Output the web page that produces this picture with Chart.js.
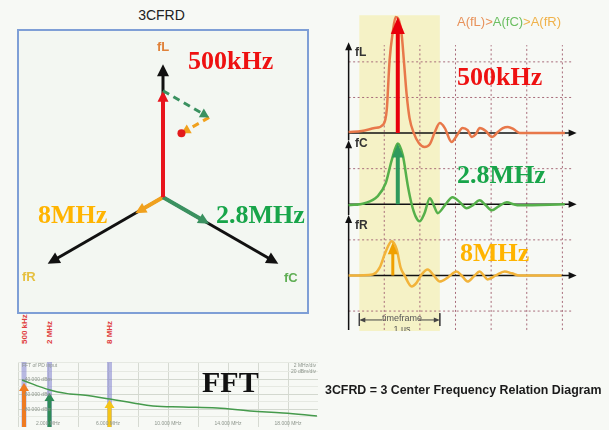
<!DOCTYPE html>
<html>
<head>
<meta charset="utf-8">
<title>3CFRD</title>
<script src="https://cdn.jsdelivr.net/npm/chart.js@4.4.1/dist/chart.umd.min.js"></script>
<style>
  body { margin: 0; width: 609px; height: 430px; overflow: hidden; position: relative; background: #f7f9f5; font-family: "Liberation Sans", Arial, sans-serif; }
  .t { position: absolute; white-space: nowrap; line-height: 1; }
  .big { font-family: "Liberation Serif", "Times New Roman", serif; font-weight: bold; font-size: 26px; }
  .lbl { font-size: 13px; font-weight: bold; }
  .ax { font-size: 12px; font-weight: bold; color: #333; }
  .tiny { font-size: 5px; color: #8d958c; }
  .marker { font-size: 8px; font-weight: bold; color: #e04040; line-height: 9px; transform-origin: 0 0; transform: rotate(-90deg); }
  canvas { position: absolute; }
  #box { position: absolute; left: 17px; top: 29px; width: 292px; height: 285px; box-sizing: border-box; border: 2px solid #7f9fd6; background: #f3f7f2; }
  #clipR { position: absolute; left: 313px; top: 0; width: 285px; height: 331px; overflow: hidden; }
</style>
</head>
<body>
<div class="t" style="left:0;width:323px;text-align:center;top:8px;font-size:14px;color:#222">3CFRD</div>
<div id="box"></div>
<canvas id="vec" width="286" height="278" style="left:20px;top:32px"></canvas>
<canvas id="wave" width="285" height="331" style="left:313px;top:0px"></canvas>
<canvas id="fft" width="300" height="65" style="left:18px;top:362px"></canvas>

<!-- 3CFRD labels -->
<div class="t lbl" style="left:157px;top:40px;color:#e0823a">fL</div>
<div class="t lbl" style="left:22px;top:270px;color:#e6c040">fR</div>
<div class="t lbl" style="left:284px;top:271px;color:#5fae55">fC</div>
<div class="t big" style="left:188px;top:48px;color:#ee1111">500kHz</div>
<div class="t big" style="left:38px;top:202px;color:#ffb400">8MHz</div>
<div class="t big" style="left:216px;top:202px;color:#18a54a">2.8MHz</div>

<!-- time signal labels -->
<div class="t" style="left:457px;top:15px;font-size:13px"><span style="color:#e8925a">A(fL)&gt;</span><span style="color:#6cbf62">A(fC)</span><span style="color:#f0b24a">&gt;A(fR)</span></div>
<div class="t ax" style="left:355px;top:46px">fL</div>
<div class="t ax" style="left:355px;top:137px">fC</div>
<div class="t ax" style="left:355px;top:219px">fR</div>
<div class="t big" style="left:457px;top:64px;color:#ee1111">500kHz</div>
<div class="t big" style="left:457px;top:162px;color:#18a54a">2.8MHz</div>
<div class="t big" style="left:460px;top:240px;color:#ffb400">8MHz</div>
<div id="clipR">
  <div class="t" style="left:69px;width:40px;text-align:center;top:314px;font-size:9px;color:#555">timeframe</div>
  <div class="t" style="left:69px;width:40px;text-align:center;top:325px;font-size:9px;color:#555">1 µs</div>
</div>

<!-- FFT labels -->
<div class="t tiny" style="left:22px;top:363px">FFT of PD input</div>
<div class="t tiny" style="left:276px;width:40px;text-align:right;top:363px">2 MHz/div</div>
<div class="t tiny" style="left:276px;width:40px;text-align:right;top:369px">20 dBm/div</div>
<div class="t" style="left:202px;top:367px;font-family:'Liberation Serif',serif;font-weight:bold;font-size:30px;color:#111">FFT</div>
<div class="t" style="left:325px;top:384px;font-size:12.4px;font-weight:bold;color:#1a1a1a">3CFRD = 3 Center Frequency Relation Diagram</div>

<script>
// 3CFRD vector diagram (axis length = 1)
const axisNames = ['fL', 'fC', 'fR'];
const axisAngles = [90, -30, 210];
const axisColors = ['#e8141c', '#3a9160', '#f0a11e'];
const amplitudes = [0.80, 0.40, 0.24];

// time signals: [time (div), amplitude (div)]
const baselines = [5, 3, 1];
const waveFL = [[0,0.03],[0.37,0.06],[0.73,0.14],[0.98,0.25],[1.07,0.65],[1.15,2.05],[1.24,2.84],[1.32,3.26],[1.40,3.20],[1.49,2.75],[1.55,2.05],[1.63,1.07],[1.71,0.42],[1.83,0],[1.97,-0.28],[2.13,-0.39],[2.28,-0.31],[2.42,0.03],[2.56,0.28],[2.70,0.14],[2.89,-0.25],[3.03,-0.08],[3.20,0.14],[3.34,0.08],[3.46,-0.11],[3.57,-0.03],[3.68,0.14],[3.85,0.06],[4.02,-0.11],[4.19,0.03],[4.33,0.14],[4.47,0.17],[4.63,0.11],[4.80,0],[6.07,0]];
const waveFC = [[0,-0.03],[0.45,0.03],[0.81,0.22],[1.04,0.59],[1.21,1.24],[1.38,1.71],[1.52,1.38],[1.66,0.53],[1.77,0],[1.88,-0.34],[1.99,-0.48],[2.13,-0.25],[2.28,0.17],[2.39,-0.03],[2.50,-0.25],[2.70,-0.03],[2.92,0.20],[3.12,0.06],[3.31,-0.11],[3.48,-0.03],[3.68,0.11],[3.85,-0.03],[4.02,-0.17],[4.21,-0.06],[4.44,0.06],[4.63,0],[4.80,-0.03],[6.07,0]];
const waveFR = [[0,0],[0.67,0.03],[0.87,0.22],[1.04,0.67],[1.21,0.96],[1.35,0.73],[1.46,0.22],[1.57,0],[1.77,-0.31],[1.91,-0.20],[2.05,0.03],[2.22,0.17],[2.39,0],[2.56,-0.17],[2.78,-0.06],[3.03,0.11],[3.17,0],[3.34,-0.17],[3.51,-0.03],[3.68,0.11],[3.79,0],[3.90,-0.11],[4.13,0],[4.38,0.11],[4.58,0.06],[4.80,0],[5.98,0]];
const waveColors = ['#e8784a', '#55b04a', '#f2b33a'];
const peakTime = [1.38, 1.38, 1.24];
const peakAmp = [3.26, 1.71, 0.93];
const peakColors = ['#e8000b', '#2f9a5c', '#f0a000'];
const timeframe = [0.3, 2.56];
const gridTimes = [1, 2, 3, 4, 5, 6];
const gridLevels = [0, 2, 4, 6, 7];

// FFT
const fftMHz = [0.27, 2.13, 3.47, 4.33, 6.13, 7.67, 9, 11, 13.27, 15.47, 17.67, 19.93];
const fftDbm = [-41.3, -54.7, -60, -61.3, -66.7, -72, -76, -77.3, -78.7, -82.7, -85.3, -89.3];
const markerLabels = ['500 kHz', '2 MHz', '8 MHz'];
const markerMHz = [0.4, 2.1, 6.1];
const markerDbm = [-45.3, -58.6, -68];
const markerColors = ['#ee7b22', '#2e8b57', '#f5c518'];
const fftTickMHz = [2, 6, 10, 14, 18];
const fftTickLabels = ['2.000 MHz', '6.000 MHz', '10.000 MHz', '14.000 MHz', '18.000 MHz'];
const fftLevels = [-40, -60, -80];
const fftLevelLabels = ['-40.000 dBm', '-60.000 dBm', '-80.000 dBm'];

function dir(deg) {
  const r = deg * Math.PI / 180;
  return [Math.cos(r), Math.sin(r)];
}

function arrowGeom(meta, ds) {
  const pts = meta.data;
  const tip = pts[pts.length - 1], prev = pts[pts.length - 2];
  let dx = tip.x - prev.x, dy = tip.y - prev.y;
  const len = Math.hypot(dx, dy) || 1;
  dx /= len; dy /= len;
  const L = ds.arrowLen || 10, H = ds.arrowHalf || L / 2;
  return { tx: tip.x, ty: tip.y, bx: tip.x - dx * L, by: tip.y - dy * L, dx, dy, nx: -dy, ny: dx, L, H };
}

// arrow heads at the end of datasets flagged with arrow:true
const arrowPlugin = {
  id: 'arrows',
  beforeDatasetDraw(chart, args) {
    const ds = chart.data.datasets[args.index];
    if (!ds.arrow) return;
    const g = arrowGeom(args.meta, ds);
    const ctx = chart.ctx;
    const w = g.H + ds.borderWidth;
    const sx = g.bx + g.dx * 1.5, sy = g.by + g.dy * 1.5;
    ctx.save();
    ctx.beginPath();
    ctx.rect(-10, -10, chart.width + 20, chart.height + 20);
    ctx.moveTo(sx + g.nx * w, sy + g.ny * w);
    ctx.lineTo(g.tx + g.dx * 4 + g.nx * w, g.ty + g.dy * 4 + g.ny * w);
    ctx.lineTo(g.tx + g.dx * 4 - g.nx * w, g.ty + g.dy * 4 - g.ny * w);
    ctx.lineTo(sx - g.nx * w, sy - g.ny * w);
    ctx.closePath();
    ctx.clip('evenodd');
  },
  afterDatasetDraw(chart, args) {
    const ds = chart.data.datasets[args.index];
    if (!ds.arrow) return;
    const ctx = chart.ctx;
    ctx.restore();
    const g = arrowGeom(args.meta, ds);
    ctx.save();
    ctx.fillStyle = ds.arrowColor || ds.borderColor;
    ctx.beginPath();
    ctx.moveTo(g.tx, g.ty);
    ctx.lineTo(g.bx + g.nx * g.H, g.by + g.ny * g.H);
    ctx.lineTo(g.bx - g.nx * g.H, g.by - g.ny * g.H);
    ctx.closePath();
    ctx.fill();
    ctx.restore();
  }
};

// yellow time frame band
const bandPlugin = {
  id: 'frameBand',
  beforeDatasetsDraw(chart, args, opts) {
    if (!opts.color) return;
    const { ctx, scales: { x, y } } = chart;
    const x0 = x.getPixelForValue(opts.start), x1 = x.getPixelForValue(opts.end);
    const y0 = y.getPixelForValue(opts.top), y1 = y.getPixelForValue(opts.bottom);
    ctx.save();
    ctx.fillStyle = opts.color;
    ctx.fillRect(x0, y0, x1 - x0, y1 - y0);
    ctx.restore();
  }
};

function baseOptions(xr, yr) {
  return {
    responsive: false,
    animation: false,
    events: [],
    layout: { padding: 0 },
    elements: { point: { radius: 0 }, line: { borderCapStyle: 'butt' } },
    plugins: { legend: { display: false }, tooltip: { enabled: false } },
    scales: {
      x: { type: 'linear', min: xr[0], max: xr[1], display: false },
      y: { type: 'linear', min: yr[0], max: yr[1], display: false }
    }
  };
}

// ---------- 3CFRD ----------
const vecSets = [];
axisAngles.forEach(a => {
  const [c, s] = dir(a);
  vecSets.push({ data: [{ x: 0, y: 0 }, { x: c, y: s }], borderColor: '#111', borderWidth: 3,
    arrow: true, arrowLen: 12, arrowHalf: 6, order: 5 });
});
axisAngles.forEach((a, i) => {
  const [c, s] = dir(a);
  vecSets.push({ data: [{ x: 0, y: 0 }, { x: amplitudes[i] * c, y: amplitudes[i] * s }],
    borderColor: axisColors[i], borderWidth: 4, arrow: true, arrowLen: 11, arrowHalf: 5.5, order: 3 });
});
// head-to-tail chain: fL, then fC, then fR
let px = 0, py = 0;
axisAngles.forEach((a, i) => {
  const [c, s] = dir(a);
  const nx = px + amplitudes[i] * c, ny = py + amplitudes[i] * s;
  if (i > 0) {
    vecSets.push({ data: [{ x: px, y: py }, { x: nx, y: ny }], borderColor: axisColors[i], borderWidth: 3,
      borderDash: [7, 5], arrow: true, arrowLen: 9, arrowHalf: 5, order: 2 });
  }
  px = nx; py = ny;
});
vecSets.push({ data: [{ x: px, y: py }], showLine: false, pointRadius: 4, pointBackgroundColor: '#e31a1c',
  pointBorderWidth: 0, order: 1 });

new Chart(document.getElementById('vec'), {
  type: 'line',
  data: { datasets: vecSets },
  options: baseOptions([-1.044, 1.044], [-0.818, 1.212]),
  plugins: [arrowPlugin]
});

// ---------- time signals ----------
const waveSets = [];
const gridPts = [];
gridTimes.forEach(t => { gridPts.push({ x: t, y: -0.53 }, { x: t, y: 7.47 }, { x: t, y: null }); });
gridLevels.forEach(v => { gridPts.push({ x: 0, y: v }, { x: 6.29, y: v }, { x: 6.29, y: null }); });
waveSets.push({ data: gridPts, borderColor: '#a86c7a', borderWidth: 1, borderDash: [2, 2.5], order: 20 });

// axes: baselines and vertical axis pieces
const axisTops = [7.55, 4.8, 2.7];
baselines.forEach((b, i) => {
  waveSets.push({ data: [{ x: 0, y: b }, { x: 6.4, y: b }], borderColor: '#111', borderWidth: 1.5,
    arrow: true, arrowLen: 8, arrowHalf: 3.5, order: 15 });
  const from = i < 2 ? axisTops[i + 1] : -0.53;
  waveSets.push({ data: [{ x: 0, y: from }, { x: 0, y: axisTops[i] }], borderColor: '#111', borderWidth: 1.5,
    arrow: true, arrowLen: 8, arrowHalf: 3.5, order: 15 });
});

[waveFL, waveFC, waveFR].forEach((w, i) => {
  waveSets.push({ data: w.map(p => ({ x: p[0], y: baselines[i] + p[1] })), borderColor: waveColors[i],
    borderWidth: 2.5, cubicInterpolationMode: 'monotone', tension: 0.4, order: 8 + i });
});

const headLen = [17, 14, 12], headHalf = [7, 6, 5], stemWidth = [4, 4, 3];
peakTime.forEach((t, i) => {
  waveSets.push({ data: [{ x: t, y: baselines[i] }, { x: t, y: baselines[i] + peakAmp[i] }],
    borderColor: peakColors[i], borderWidth: stemWidth[i], arrow: true, arrowLen: headLen[i], arrowHalf: headHalf[i], order: 2 });
});

// timeframe dimension arrows
const tfY = -0.25;
waveSets.push({ data: [{ x: 0.95, y: tfY }, { x: timeframe[0], y: tfY }], borderColor: '#444', borderWidth: 1,
  arrow: true, arrowLen: 6, arrowHalf: 2.5, order: 3 });
waveSets.push({ data: [{ x: 1.99, y: tfY }, { x: timeframe[1], y: tfY }], borderColor: '#444', borderWidth: 1,
  arrow: true, arrowLen: 6, arrowHalf: 2.5, order: 3 });
waveSets.push({ data: [{ x: timeframe[0], y: -0.06 }, { x: timeframe[0], y: -0.42 }, { x: timeframe[0], y: null },
  { x: timeframe[1], y: -0.06 }, { x: timeframe[1], y: -0.42 }], borderColor: '#444', borderWidth: 1, order: 3 });

const waveOpts = baseOptions([-1, 7], [-0.56, 8.738]);
waveOpts.plugins.frameBand = { start: timeframe[0], end: timeframe[1], top: 8.31, bottom: -0.56, color: '#f5f2c6' };
new Chart(document.getElementById('wave'), {
  type: 'line',
  data: { datasets: waveSets },
  options: waveOpts,
  plugins: [bandPlugin, arrowPlugin]
});

// ---------- FFT ----------
const fftSets = [];
markerMHz.forEach(m => {
  fftSets.push({ data: [{ x: m, y: -104 }, { x: m, y: -17.3 }], borderColor: 'rgba(120,120,205,0.5)', borderWidth: 5, order: 6 });
});
fftSets.push({ data: fftMHz.map((m, i) => ({ x: m, y: fftDbm[i] })), borderColor: '#459a4c', borderWidth: 1.5,
  tension: 0.4, order: 4 });
markerMHz.forEach((m, i) => {
  fftSets.push({ data: [{ x: m, y: -104 }, { x: m, y: markerDbm[i] }], borderColor: markerColors[i], borderWidth: 4,
    arrow: true, arrowLen: 8, arrowHalf: 5, order: 1 });
});

const fftOpts = baseOptions([0, 20], [-104, -17.3]);
fftOpts.scales.x = { type: 'linear', min: 0, max: 20, display: true,
  ticks: { display: false, stepSize: 2 }, border: { display: false },
  grid: { color: '#d6dad2', drawTicks: false }, afterFit(s) { s.height = 0; } };
fftOpts.scales.y = { type: 'linear', min: -104, max: -17.3, display: true,
  ticks: { display: false, stepSize: 10 }, border: { display: false },
  grid: { color: c => (c.tick.value % 20 === 0 ? '#d3d8cf' : '#e6e9e2'), drawTicks: false },
  afterFit(s) { s.width = 0; } };
const fft = new Chart(document.getElementById('fft'), {
  type: 'line',
  data: { datasets: fftSets },
  options: fftOpts,
  plugins: [arrowPlugin]
});

// FFT text placed through the chart's scales
const fftCanvas = document.getElementById('fft');
const ox = fftCanvas.offsetLeft, oy = fftCanvas.offsetTop;
function addText(cls, txt, left, top, extra) {
  const d = document.createElement('div');
  d.className = 't ' + cls;
  d.textContent = txt;
  d.style.left = left + 'px';
  d.style.top = top + 'px';
  if (extra) Object.assign(d.style, extra);
  document.body.appendChild(d);
  return d;
}
markerLabels.forEach((txt, i) => {
  addText('marker', txt, ox + fft.scales.x.getPixelForValue(markerMHz[i]) - 4.5, 344);
});
fftTickMHz.forEach((m, i) => {
  addText('tiny', fftTickLabels[i], ox + fft.scales.x.getPixelForValue(m) - 20, 421,
    { width: '40px', textAlign: 'center' });
});
fftLevels.forEach((v, i) => {
  addText('tiny', fftLevelLabels[i], ox + 5, oy + fft.scales.y.getPixelForValue(v) - 2.5);
});
</script>
</body>
</html>
